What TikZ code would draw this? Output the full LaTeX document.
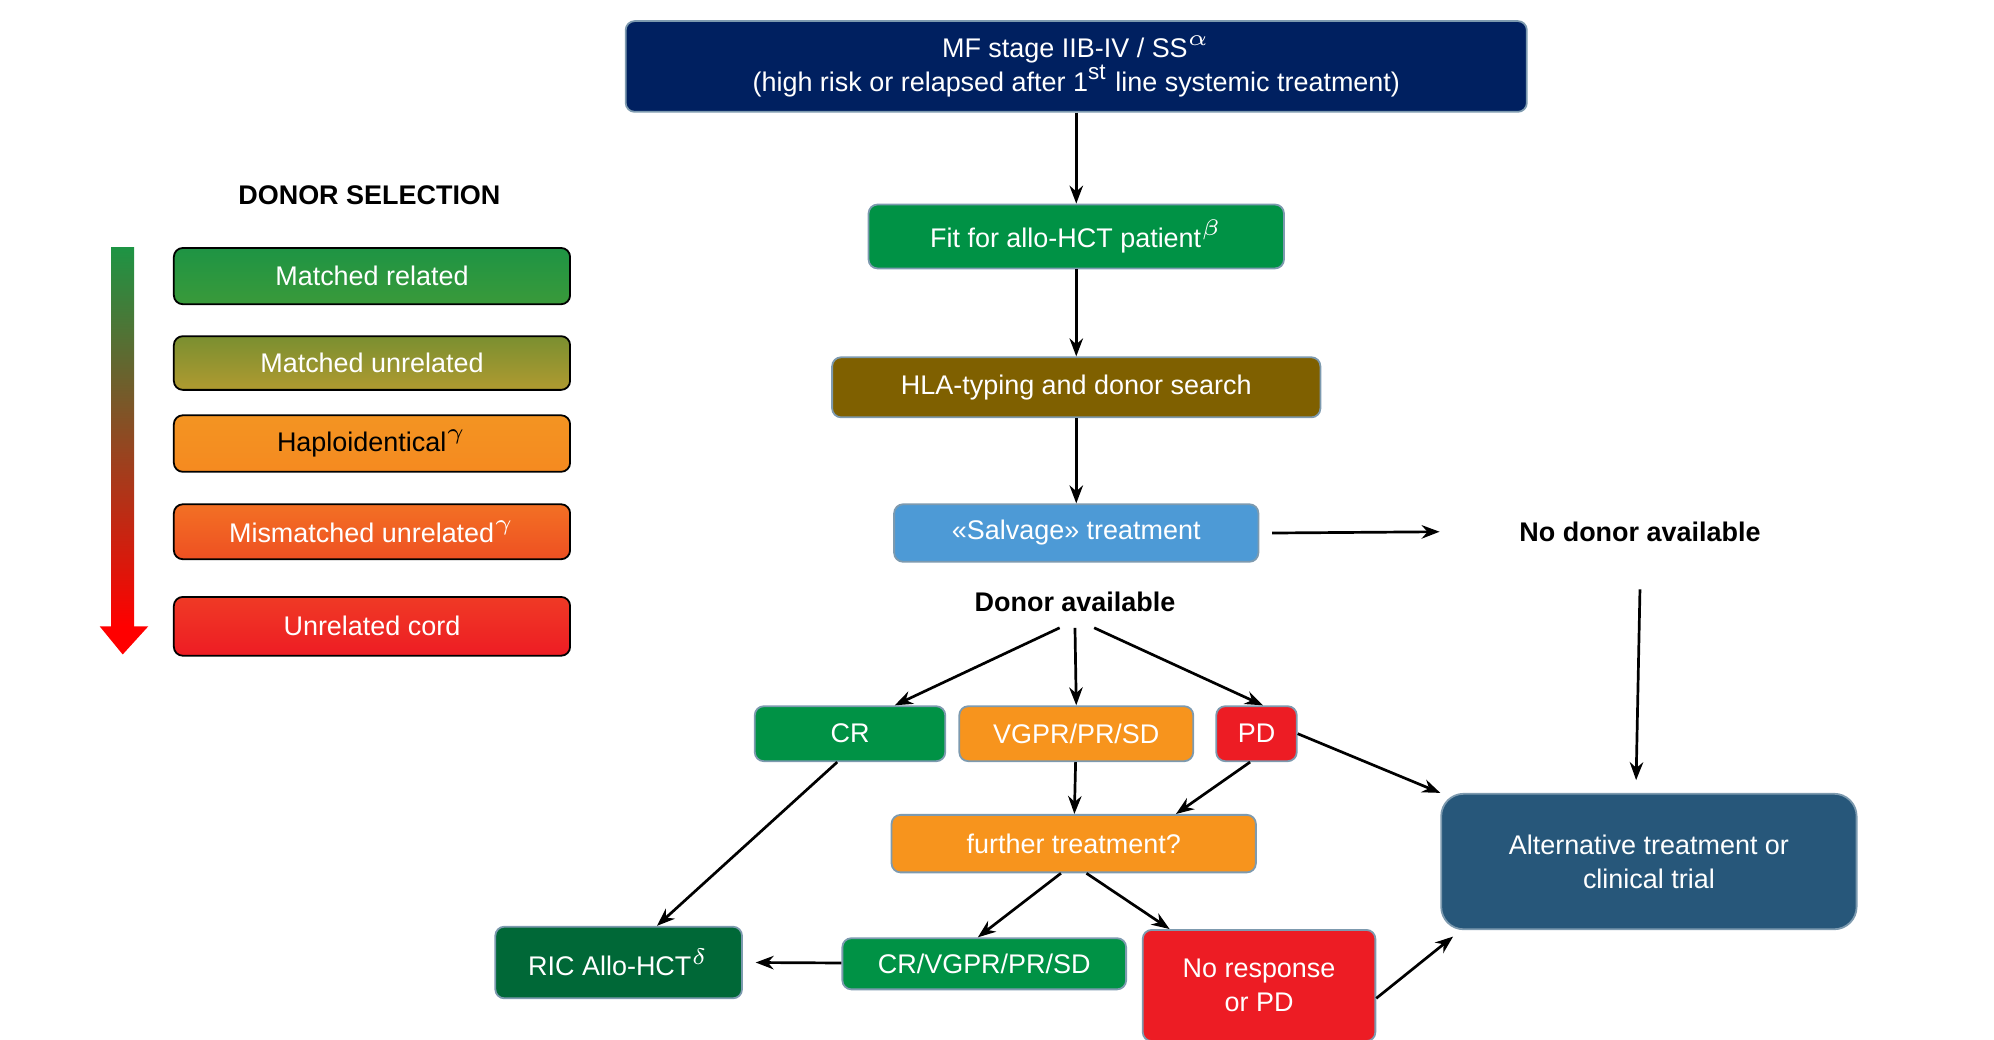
\documentclass[tikz,border=0pt]{standalone}
\usepackage{fontspec}
\setmainfont{Liberation Sans}
\usetikzlibrary{arrows.meta,positioning}
\definecolor{navy}{HTML}{002060}
\definecolor{fitgreen}{HTML}{009245}
\definecolor{hlabrown}{HTML}{7F6000}
\definecolor{salvblue}{HTML}{4D9AD6}
\definecolor{resorange}{HTML}{F7941D}
\definecolor{resred}{HTML}{ED1C24}
\definecolor{ricgreen}{HTML}{006837}
\definecolor{altblue}{HTML}{27577A}
\definecolor{lgA}{HTML}{1E9444}
\definecolor{lgB}{HTML}{3A9A3A}
\definecolor{lgC}{HTML}{7A8F30}
\definecolor{lgD}{HTML}{B09A30}
\definecolor{lgE}{HTML}{F39422}
\definecolor{lgF}{HTML}{F58A20}
\definecolor{lgG}{HTML}{F37024}
\definecolor{lgH}{HTML}{EE5022}
\definecolor{lgI}{HTML}{EF3A25}
\definecolor{lgJ}{HTML}{EE1C24}
\tikzset{
  box/.style={draw=altblue!60!white, rounded corners=2pt, text=white, align=center,
    font=\fontsize{6}{7.6}\selectfont, inner sep=1pt},
  legend/.style={draw=black, rounded corners=2pt, text=white, align=center,
    minimum width=3.1cm, font=\fontsize{6}{7.6}\selectfont},
  caption/.style={font=\bfseries\fontsize{6}{7.6}\selectfont},
  flow/.style={-{Stealth[length=4pt,width=3pt]}, semithick},
}
\begin{document}
\begin{tikzpicture}[x=1cm,y=1cm]
\useasboundingbox (0,0) rectangle (15.6,8.13);
% main chain
\node [box, fill=navy, minimum width=7.05cm, minimum height=0.71cm] (stage) at (8.42,7.61)
  {MF stage IIB-IV / SS$^{\alpha}$\\(high risk or relapsed after 1\textsuperscript{st} line systemic treatment)};
\node [box, fill=fitgreen, minimum width=3.25cm, minimum height=0.5cm] (fit) at (8.42,6.28) {Fit for allo-HCT patient$^{\beta}$};
\node [box, fill=hlabrown, minimum width=3.82cm, minimum height=0.47cm] (hla) at (8.42,5.10) {HLA-typing and donor search};
\node [box, fill=salvblue, minimum width=2.85cm, minimum height=0.45cm] (salvage) at (8.42,3.96) {«Salvage» treatment};
\node [caption] (nodonor) at (12.83,3.97) {No donor available};
\node [caption] (donor) at (8.41,3.42) {Donor available};
% responses
\node [box, fill=fitgreen, minimum width=1.49cm, minimum height=0.43cm] (cr) at (6.65,2.39) {CR};
\node [box, fill=resorange, minimum width=1.83cm, minimum height=0.43cm] (vgpr) at (8.42,2.39) {VGPR/PR/SD};
\node [box, fill=resred, minimum width=0.63cm, minimum height=0.43cm] (pd) at (9.83,2.39) {PD};
\node [box, fill=resorange, minimum width=2.85cm, minimum height=0.45cm] (further) at (8.40,1.53) {further treatment?};
\node [box, fill=ricgreen, minimum width=1.93cm, minimum height=0.56cm] (ric) at (4.84,0.60) {RIC Allo-HCT$^{\delta}$};
\node [box, fill=fitgreen, minimum width=2.22cm, minimum height=0.40cm] (crvgpr) at (7.70,0.59) {CR/VGPR/PR/SD};
\node [box, fill=resred, minimum width=1.82cm, minimum height=0.87cm] (nores) at (9.85,0.42) {No response\\or PD};
\node [box, fill=altblue, rounded corners=5pt, minimum width=3.25cm, minimum height=1.06cm] (alt) at (12.90,1.39) {Alternative treatment or\\clinical trial};
% connectors
\draw [flow] (stage) -- (fit);
\draw [flow] (fit) -- (hla);
\draw [flow] (hla) -- (salvage);
\draw [flow] ([xshift=0.1cm]salvage.east) -- ([xshift=-0.5cm]nodonor.west);
\draw [flow] ([yshift=-0.25cm]nodonor.south) -- ([xshift=-0.1cm,yshift=0.1cm]alt.north);
\draw [flow] ([xshift=-0.12cm]donor.south) -- ([xshift=0.35cm]cr.north);
\draw [flow] (donor.south) -- (vgpr.north);
\draw [flow] ([xshift=0.15cm]donor.south) -- ([xshift=0.05cm]pd.north);
\draw [flow] ([xshift=-0.1cm]cr.south) -- ([xshift=0.3cm]ric.north);
\draw [flow] (vgpr) -- (further);
\draw [flow] ([xshift=-0.05cm]pd.south) -- ([xshift=0.8cm]further.north);
\draw [flow] (pd.east) -- (alt.north west);
\draw [flow] ([xshift=-0.1cm]further.south) -- ([xshift=-0.05cm]crvgpr.north);
\draw [flow] ([xshift=0.1cm]further.south) -- ([xshift=-0.7cm]nores.north);
\draw [flow] (crvgpr) -- ([xshift=0.1cm]ric.east);
\draw [flow] ([yshift=-0.1cm]nores.east) -- ([xshift=0.1cm,yshift=-0.05cm]alt.south west);
% donor selection legend
\node [caption] (selection) at (2.89,6.60) {DONOR SELECTION};
\node [legend, minimum height=0.44cm, top color=lgA, bottom color=lgB] (related) at (2.91,5.97) {Matched related};
\node [legend, minimum height=0.42cm, top color=lgC, bottom color=lgD] (unrelated) at (2.91,5.29) {Matched unrelated};
\node [legend, minimum height=0.42cm, top color=lgE, bottom color=lgF, text=black] (haplo) at (2.91,4.66) {Haploidentical$^{\gamma}$};
\node [legend, minimum height=0.43cm, top color=lgG, bottom color=lgH] (mismatch) at (2.91,3.97) {Mismatched unrelated$^{\gamma}$};
\node [legend, minimum height=0.46cm, top color=lgI, bottom color=lgJ] (cord) at (2.91,3.23) {Unrelated cord};
\shade [top color=lgA, middle color=lgE, bottom color=red] (0.87,6.19) rectangle (1.05,3.23);
\fill [red] (0.78,3.23) -- (1.16,3.23) -- (0.96,3.01) -- cycle;
\end{tikzpicture}
\end{document}
